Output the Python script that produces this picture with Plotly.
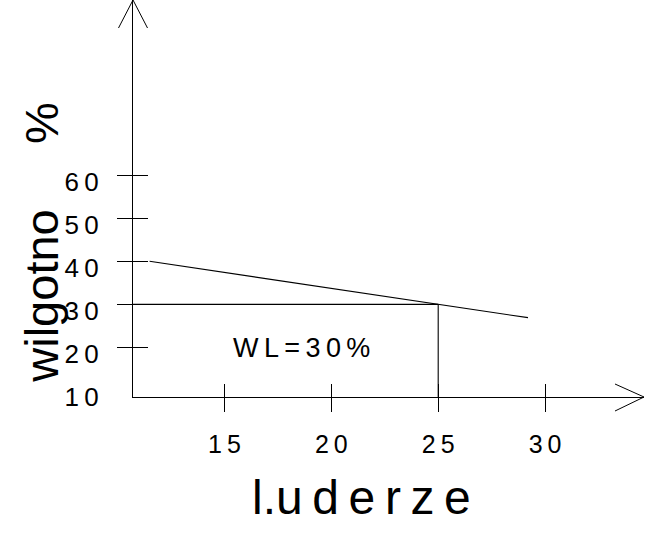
import plotly.graph_objects as go

# ---- data ----
blows = [11.5, 29.2]            # flow line (number of blows)
moisture = [40.0, 26.9]         # flow line (moisture %)
wl_blows = 25                   # liquid-limit construction: blows
wl_value = 30                   # liquid limit (%)
x_ticks = [15, 20, 25, 30]
x_ticktext = ["1\u20095", "2\u20090", "2\u20095", "3\u20090"]
y_label_vals = [10, 20, 30, 40, 50, 60]
y_ticktext = ["1\u20090", "2\u20090", "3\u20090", "4\u20090", "5\u20090", "6\u20090"]
y_tick_marks = [20, 30, 40, 50, 60]
x_title = "l.u\u2009d\u2009e\u2009r\u2009z\u2009e"
y_title = "wilgotno     %"
wl_label = "W\u2009L\u2009=\u20093\u20090\u2009%"

X_RANGE = [10.725, 34.626]
Y_RANGE = [8.45, 100.77]

FONT = "Liberation Sans, Arial, sans-serif"
BLACK = "black"

fig = go.Figure()

# flow line
fig.add_trace(go.Scatter(x=blows, y=moisture, mode="lines",
                         line=dict(color=BLACK, width=1.1), xaxis="x", yaxis="y",
                         hoverinfo="skip", showlegend=False))
# WL horizontal
fig.add_trace(go.Scatter(x=[X_RANGE[0], wl_blows], y=[wl_value, wl_value], mode="lines",
                         line=dict(color=BLACK, width=1.1), xaxis="x2", yaxis="y2",
                         hoverinfo="skip", showlegend=False))
# WL vertical
fig.add_trace(go.Scatter(x=[wl_blows, wl_blows], y=[wl_value, Y_RANGE[0]], mode="lines",
                         line=dict(color=BLACK, width=1.1), xaxis="x", yaxis="y3",
                         hoverinfo="skip", showlegend=False))

common = dict(showgrid=False, zeroline=False, fixedrange=True)

fig.update_layout(
    width=645, height=536, autosize=False,
    margin=dict(l=133, r=1, t=0, b=139),
    paper_bgcolor="white", plot_bgcolor="white",
    font=dict(family=FONT, color=BLACK),
    xaxis=dict(range=X_RANGE, tickmode="array", tickvals=x_ticks, ticktext=x_ticktext,
               ticks="outside", ticklen=14, tickwidth=1.1, tickcolor=BLACK,
               showline=True, linecolor=BLACK, linewidth=1.2,
               tickfont=dict(family=FONT, size=25, color=BLACK),
               ticklabelstandoff=11, **common),
    xaxis2=dict(range=X_RANGE, overlaying="x", anchor="y", tickmode="array", tickvals=x_ticks,
                ticks="inside", ticklen=13, tickwidth=1.1, tickcolor=BLACK,
                showticklabels=False, showline=False, **common),
    yaxis=dict(range=Y_RANGE, tickmode="array", tickvals=y_label_vals, ticktext=y_ticktext,
               ticks="", showline=True, linecolor=BLACK, linewidth=1.2,
               tickfont=dict(family=FONT, size=26, color=BLACK),
               ticklabelstandoff=28, ticklabelshift=7, **common),
    yaxis2=dict(range=Y_RANGE, overlaying="y", anchor="x2", side="left", tickmode="array",
                tickvals=y_tick_marks, ticks="outside", ticklen=15, tickwidth=1.1, tickcolor=BLACK,
                showticklabels=False, showline=False, **common),
    yaxis3=dict(range=Y_RANGE, overlaying="y", anchor="x", side="left", tickmode="array",
                tickvals=y_tick_marks, ticks="inside", ticklen=15, tickwidth=1.1, tickcolor=BLACK,
                showticklabels=False, showline=False, **common),
)

# arrow heads on the axes
fig.add_shape(type="path", xref="paper", yref="paper", xsizemode="pixel", ysizemode="pixel",
              xanchor=0, yanchor=1, path="M-14.5,-28 L0,0 L14.5,-28",
              line=dict(color=BLACK, width=1))
fig.add_shape(type="path", xref="paper", yref="paper", xsizemode="pixel", ysizemode="pixel",
              xanchor=1, yanchor=0, path="M-29,13 L0,0 L-29,-14",
              line=dict(color=BLACK, width=1))

# texts
fig.add_annotation(x=18.6, y=19.8, xref="x", yref="y", text=wl_label, showarrow=False,
                   font=dict(family=FONT, size=27, color=BLACK), xanchor="center", yanchor="middle")
fig.add_annotation(x=-0.179, y=0.39, xref="paper", yref="paper", text=y_title, showarrow=False,
                   textangle=-90, font=dict(family=FONT, size=47, color=BLACK),
                   xanchor="center", yanchor="middle")
fig.add_annotation(x=0.448, y=-0.252, xref="paper", yref="paper", text=x_title, showarrow=False,
                   font=dict(family=FONT, size=48, color=BLACK), xanchor="center", yanchor="middle")

fig.write_html("out.html", config={"displayModeBar": False},
               post_script="document.body.style.margin='0px';")
